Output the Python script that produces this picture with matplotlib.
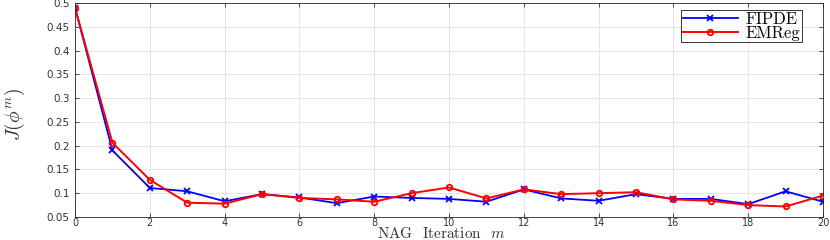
import numpy as np
import matplotlib
matplotlib.use("Agg")
import matplotlib.pyplot as plt

plt.rcParams['mathtext.fontset'] = 'cm'

iters = list(range(21))
fipde = [0.49, 0.190, 0.111, 0.104, 0.083, 0.098, 0.091, 0.079, 0.093, 0.090, 0.088,
         0.082, 0.108, 0.089, 0.084, 0.098, 0.088, 0.088, 0.077, 0.104, 0.082]
emreg = [0.49, 0.206, 0.128, 0.080, 0.078, 0.098, 0.090, 0.087, 0.082, 0.100, 0.112,
         0.089, 0.108, 0.098, 0.100, 0.102, 0.087, 0.084, 0.075, 0.072, 0.095]
xticks = list(range(0, 21, 2))
yticks = [0.05, 0.1, 0.15, 0.2, 0.25, 0.3, 0.35, 0.4, 0.45, 0.5]
ytick_labels = ['0.05', '0.1', '0.15', '0.2', '0.25', '0.3', '0.35', '0.4', '0.45', '0.5']

fig = plt.figure(figsize=(8.3, 2.4), dpi=100)
ax = fig.add_axes([0.0904, 0.096, 0.9012, 0.8915])

ax.plot(iters, fipde, color='#0000ff', lw=1.3, marker='x', ms=4, mew=1.3, label='FIPDE')
ax.plot(iters, emreg, color='#ff0000', lw=1.4, marker='o', ms=4, mew=1.3,
        mfc='none', label='EMReg')

ax.set_xlim(0, 20)
ax.set_ylim(0.05, 0.5)
ax.set_xticks(xticks)
ax.set_yticks(yticks)
ax.set_yticklabels(ytick_labels)
ax.grid(True, color='#e0e0e0', lw=0.6)
ax.set_axisbelow(True)
ax.tick_params(direction='in', top=True, right=True, labelsize=7.5, colors='#333333',
               length=3, width=0.6)
ax.tick_params(axis='x', pad=1, labelsize=7)
ax.tick_params(axis='y', pad=4)
for s in ax.spines.values():
    s.set_color('#262626')
    s.set_linewidth(0.6)

ax.set_xlabel('NAG  Iteration  $m$', family='cmr10', fontsize=11, color='#333333',
              va='top')
ax.xaxis.set_label_coords(0.49, -0.04)
ax.set_ylabel(r'$J(\phi^m)$', fontsize=14, color='#333333', va='center')
ax.yaxis.set_label_coords(-0.08, 0.48)

leg = ax.legend(loc='upper right', prop={'family': 'cmr10', 'size': 12},
                frameon=True, fancybox=False, edgecolor='black', borderpad=0.1,
                handlelength=3.3, handletextpad=0.5, labelspacing=-0.1,
                borderaxespad=0.3, bbox_to_anchor=(0.979, 0.99))
leg.get_frame().set_linewidth(0.7)

fig.savefig('out.png', dpi=100)
